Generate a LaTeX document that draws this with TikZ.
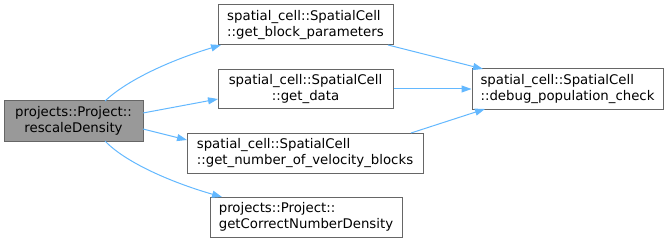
\documentclass[tikz,border=0pt]{standalone}
\usepackage{fontspec}
\setmainfont{DejaVu Sans}
\usetikzlibrary{arrows.meta}
\definecolor{edgecol}{HTML}{63B8FF}
\definecolor{bordercol}{HTML}{666666}
\definecolor{curfill}{HTML}{999999}
\begin{document}
\begin{tikzpicture}[x=1pt,y=-1pt,
  fn/.style={draw=bordercol, line width=1pt, fill=white, inner sep=0pt, align=left,
    font=\fontsize{13.3}{15.5}\selectfont, anchor=center},
  cur/.style={fn, fill=curfill, align=center},
  edge/.style={draw=edgecol, line width=1pt, -{Triangle[length=10pt,width=7pt]}}]
\useasboundingbox (0,0) rectangle (668,243);
\node[cur, minimum width=139pt, minimum height=40pt] (A) at (73.5,121) {projects::Project::\\rescaleDensity};
\node[fn, minimum width=175pt, minimum height=40pt] (B) at (305.5,25) {spatial\_cell::SpatialCell\\::get\_block\_parameters};
\node[fn, minimum width=175pt, minimum height=39pt, align=center] (C) at (305.5,89) {spatial\_cell::SpatialCell\\::get\_data};
\node[fn, minimum width=236pt, minimum height=40pt] (D) at (305,153) {spatial\_cell::SpatialCell\\::get\_number\_of\_velocity\_blocks};
\node[fn, minimum width=192pt, minimum height=40pt] (E) at (306,217) {projects::Project::\\getCorrectNumberDensity};
\node[fn, minimum width=191pt, minimum height=40pt] (F) at (567.5,89) {spatial\_cell::SpatialCell\\::debug\_population\_check};
\coordinate (a1) at (105,101);
\coordinate (b0) at (221,45);
\coordinate (a2) at (143,113);
\coordinate (c0) at (218,99);
\coordinate (a3) at (143,129);
\coordinate (d0) at (187,140);
\coordinate (a4) at (105,141);
\coordinate (e0) at (222,197);
\coordinate (b1) at (388,45);
\coordinate (f1) at (483,69);
\coordinate (d1) at (411,133);
\coordinate (f3) at (485,109);
\draw[edge] (a1) .. controls (125,82) and (165,62) .. (b0);
\draw[edge] (a2) -- (c0);
\draw[edge] (a3) -- (d0);
\draw[edge] (a4) .. controls (125,162) and (170,182) .. (e0);
\draw[edge] (b1) -- (f1);
\draw[edge] (C.east) -- (F.west);
\draw[edge] (d1) -- (f3);
\end{tikzpicture}
\end{document}
